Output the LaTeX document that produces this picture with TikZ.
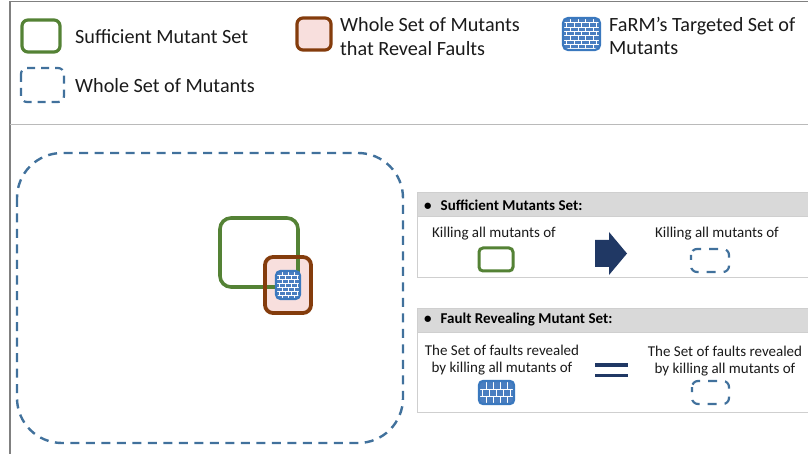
\documentclass[tikz,border=0pt]{standalone}
\usepackage{fontspec}
\setmainfont{Carlito}
\definecolor{grn}{HTML}{548235}
\definecolor{brn}{HTML}{843C0C}
\definecolor{pnk}{HTML}{F8DFDD}
\definecolor{dblue}{HTML}{41719C}
\definecolor{bkblue}{HTML}{4A7EC0}
\definecolor{bkbord}{HTML}{3A78BE}
\definecolor{navy}{HTML}{203864}
\definecolor{hdr}{HTML}{D9D9D9}
\definecolor{pbord}{HTML}{CFCFCF}
\definecolor{frm}{HTML}{808080}
\definecolor{txt}{HTML}{1A1A1A}
\newcommand\brickbox[7]{%
  \begin{scope}
    \clip[rounded corners=#7] (#1,#2) rectangle (#3,#4);
    \fill[bkblue] (#1,#2) rectangle (#3,#4);
    \pgfmathtruncatemacro\nrows{(#4-#2)/#5}
    \pgfmathtruncatemacro\ncols{(#3-#1)/#6+1}
    \foreach \r in {0,...,\nrows} {
      \draw[white,line width=0.9] (#1,{#2+\r*#5+0.5}) -- (#3,{#2+\r*#5+0.5});
      \pgfmathsetmacro\off{mod(\r,2)*#6/2}
      \foreach \k in {0,...,\ncols} {
        \draw[white,line width=0.9] ({#1+\off+\k*#6},{#2+\r*#5+0.5}) -- ++(0,#5);
      }
    }
  \end{scope}
  \draw[bkbord,line width=2.2,rounded corners=#7] (#1,#2) rectangle (#3,#4);
}
\tikzset{
  legtext/.style={anchor=west,align=left,text=txt,font=\fontsize{20.2}{23.5}\selectfont,inner sep=0pt},
  ptext/.style={align=center,text=txt,font=\fontsize{15}{17.5}\selectfont,inner sep=0pt},
  htext/.style={anchor=west,text=black,font=\fontsize{15}{17}\selectfont\bfseries,inner sep=0pt},
  dashbox/.style={draw=dblue,line width=2.4,dash pattern=on 9 off 6.5},
  smalldash/.style={draw=dblue,line width=2.2,dash pattern=on 9 off 8,dash phase=4,rounded corners=6},
}
\begin{document}
\begin{tikzpicture}[x=1pt,y=-1pt]
\useasboundingbox (0,0) rectangle (808,454);
% frame
\draw[frm,line width=1.2] (10,1.5) -- (808,1.5);
\draw[frm,line width=1.8] (10,1.5) -- (10,454);
\draw[pbord!90!black,line width=1.6] (10,124.5) -- (808,124.5);

% legend
\draw[grn,line width=3.2,rounded corners=6] (22,20) rectangle (60,52);
\node[legtext] (l1) at (75,37) {Sufficient Mutant Set};
\draw[dashbox,dash pattern=on 8 off 6,line width=2.2,rounded corners=6] (21,68) rectangle (64,102);
\node[legtext] (l2) at (75,86) {Whole Set of Mutants};
\draw[brn,fill=pnk,line width=3.2,rounded corners=6] (297,18) rectangle (331,50);
\node[legtext] (l3) at (340,36.5) {Whole Set of Mutants\\that Reveal Faults};
\brickbox{563}{18}{600}{50}{4.3}{7.5}{5}
\node[legtext] (l4) at (609,36) {FaRM’s Targeted Set of\\Mutants};

% main diagram
\draw[dashbox,rounded corners=45] (17,153) rectangle (403,443);
\fill[pnk,rounded corners=8] (265,257) rectangle (311,313);
\draw[grn,line width=3.6,rounded corners=11] (220,218) rectangle (298,287);
\draw[brn,line width=3.8,rounded corners=8] (265,257) rectangle (311,313);
\brickbox{276}{271}{300}{299}{4}{6}{4.5}

% panel 1
\draw[pbord,fill=white,line width=1] (417,217) rectangle (820,277);
\draw[pbord,fill=hdr,line width=1] (417,193) rectangle (820,217);
\node[htext] (h1) at (424,205) {•\hspace{9pt}Sufficient Mutants Set:};
\node[ptext] (t1) at (494,234) {Killing all mutants of};
\draw[grn,line width=3,rounded corners=4] (479,248) rectangle (513,271);
\node[ptext] (t2) at (717,234) {Killing all mutants of};
\draw[smalldash] (691,249) rectangle (729,272);
\fill[navy] (595,240) -- (609,240) -- (609,232) -- (627,253.5) -- (609,275) -- (609,267) -- (595,267) -- cycle;

% panel 2
\draw[pbord,fill=white,line width=1] (417,332) rectangle (820,412);
\draw[pbord,fill=hdr,line width=1] (417,308) rectangle (820,332);
\node[htext] (h2) at (424,320) {•\hspace{9pt}Fault Revealing Mutant Set:};
\node[ptext] (t3) at (502,360) {The Set of faults revealed\\by killing all mutants of};
\brickbox{479}{381}{514}{404}{7.5}{7}{4}
\node[ptext] (t4) at (725,361) {The Set of faults revealed\\by killing all mutants of};
\draw[smalldash] (692,381) rectangle (729,404);
\fill[navy] (595,363) rectangle (628,366.5);
\fill[navy] (595,373.5) rectangle (628,377);
\end{tikzpicture}
\end{document}
